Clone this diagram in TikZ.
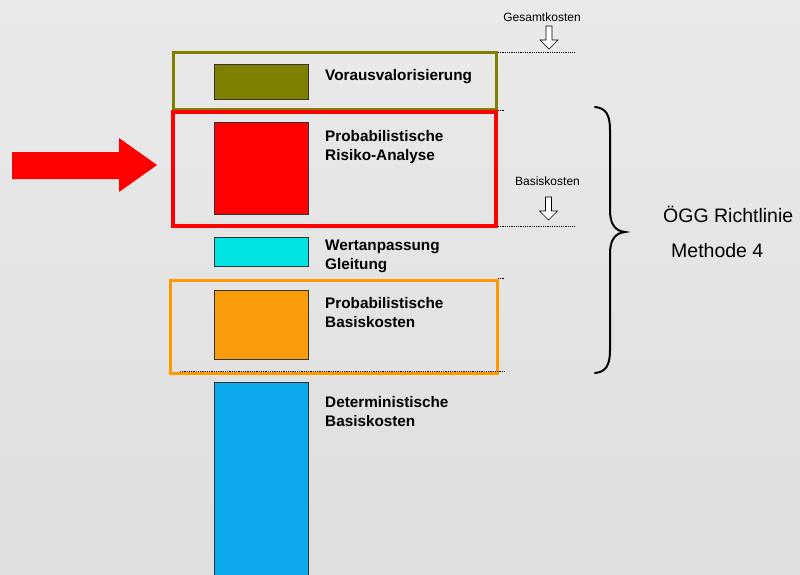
\documentclass[tikz,border=0pt]{standalone}
\usepackage{fontspec}
\setmainfont{Liberation Sans}
\definecolor{bgtop}{RGB}{234,234,234}
\definecolor{bgbot}{RGB}{222,222,222}
\definecolor{olivec}{RGB}{128,128,0}
\definecolor{redc}{RGB}{255,0,0}
\definecolor{cyanc}{RGB}{0,228,228}
\definecolor{orangeframe}{RGB}{255,153,0}
\definecolor{orangebox}{RGB}{249,157,12}
\definecolor{bluec}{RGB}{13,169,237}
\tikzset{
  bar/.style={draw=black!80, line width=0.8pt, anchor=north west, inner sep=0pt, outer sep=0pt},
  frame/.style={line width=3pt, anchor=north west, inner sep=0pt, outer sep=0pt, fill=none},
  lbl/.style={anchor=north west, inner sep=0pt, align=left, font=\fontsize{15.3}{19}\selectfont\bfseries},
  small/.style={anchor=base, inner sep=0pt, font=\fontsize{12}{14}\selectfont},
  big/.style={anchor=base west, inner sep=0pt, font=\fontsize{19.5}{23}\selectfont},
  dotline/.style={line width=0.6pt, dash pattern=on 1pt off 0.8pt},
  hollow/.style={draw=black, line width=0.6pt, fill=white},
  bracestyle/.style={line width=2pt, line cap=round}
}
\begin{document}
\begin{tikzpicture}[x=1pt,y=-1pt]
\useasboundingbox (0,0) rectangle (800,575);
\shade[top color=bgtop, bottom color=bgbot] (0,0) rectangle (800,575);

% frames
\node[frame, draw=olivec, minimum width=323pt, minimum height=57pt] (fOlive) at (173,53) {};
\node[frame, draw=redc, line width=3.5pt, minimum width=323pt, minimum height=114pt] (fRed) at (173,112) {};
\node[frame, draw=orangeframe, minimum width=327pt, minimum height=93pt] (fOrange) at (170,280) {};

% bars
\node[bar, fill=olivec, minimum width=94pt, minimum height=35pt] (bOlive) at (214,64) {};
\node[bar, fill=redc, minimum width=94pt, minimum height=92pt] (bRed) at (214,122) {};
\node[bar, fill=cyanc, minimum width=94pt, minimum height=29pt] (bCyan) at (214,237) {};
\node[bar, fill=orangebox, minimum width=94pt, minimum height=69pt] (bOrange) at (214,290) {};
\node[bar, fill=bluec, minimum width=94pt, minimum height=200pt] (bBlue) at (214,382) {};

% labels
\node[lbl] (tOlive) at (325,69) {Vorausvalorisierung};
\node[lbl] (tRed) at (325,130) {Probabilistische\\Risiko-Analyse};
\node[lbl] (tCyan) at (325,240) {Wertanpassung\\Gleitung};
\node[lbl] (tOrange) at (325,297) {Probabilistische\\Basiskosten};
\node[lbl] (tBlue) at (325,396) {Deterministische\\Basiskosten};

% dotted lines
\coordinate (d1a) at (498,52); \coordinate (d1b) at (575,52);
\coordinate (d2a) at (498,110); \coordinate (d2b) at (505,110);
\coordinate (d3a) at (498,226); \coordinate (d3b) at (575,226);
\coordinate (d4a) at (498,278); \coordinate (d4b) at (505,278);
\coordinate (d5a) at (180,371); \coordinate (d5b) at (505,371);
\draw[dotline] (d1a) -- (d1b);
\draw[dotline] (d2a) -- (d2b);
\draw[dotline] (d3a) -- (d3b);
\draw[dotline] (d4a) -- (d4b);
\draw[dotline] (d5a) -- (d5b);

% small labels and hollow arrows
\node[small] (tGes) at (542,22) {Gesamtkosten};
\draw[hollow] (546,26) -- (552,26) -- (552,40) -- (558,40) -- (549,49) -- (540,40) -- (546,40) -- cycle;
\node[small] (tBas) at (547.5,185) {Basiskosten};
\draw[hollow] (545.5,197) -- (551.5,197) -- (551.5,211) -- (557.5,211) -- (548.5,220) -- (539.5,211) -- (545.5,211) -- cycle;

% brace
\coordinate (brTop) at (595,107);
\coordinate (brTip) at (625,232);
\coordinate (brBot) at (595,373);
\draw[bracestyle] (brTop) .. controls (606,108) and (610,115) .. (610,130)
  -- (610,210) .. controls (610,224) and (615,231) .. (brTip)
  .. controls (615,233) and (610,240) .. (610,254)
  -- (610,350) .. controls (610,365) and (606,372) .. (brBot);

\node[big] (tOegg) at (663,222) {ÖGG Richtlinie};
\node[big] (tMeth) at (671,257) {Methode 4};

% red arrow
\fill[redc] (12,152) -- (119,152) -- (119,138) -- (157,165) -- (119,192) -- (119,179) -- (12,179) -- cycle;
\end{tikzpicture}
\end{document}
